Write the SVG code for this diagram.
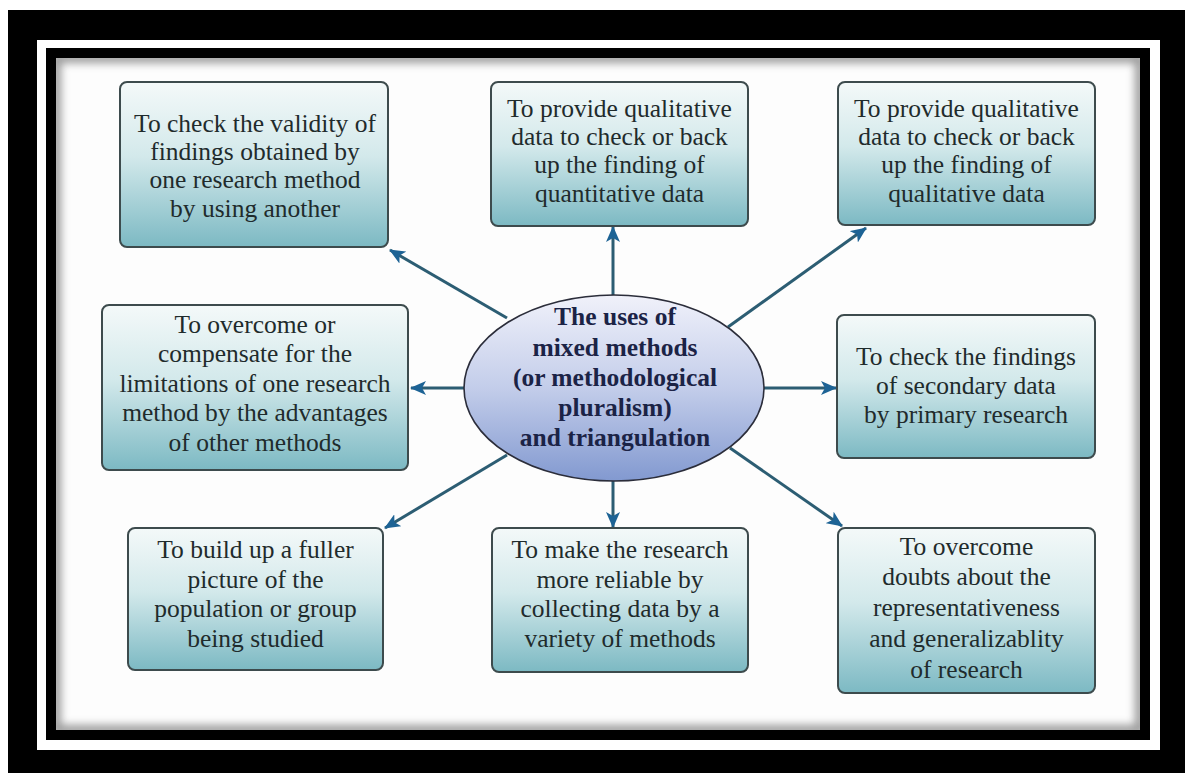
<svg xmlns="http://www.w3.org/2000/svg" width="1185" height="773" viewBox="0 0 1185 773">
  <defs>
    <linearGradient id="boxFill" x1="0" y1="0" x2="0" y2="1">
      <stop offset="0" stop-color="#f4f9f9"/>
      <stop offset="0.45" stop-color="#d3e9eb"/>
      <stop offset="1" stop-color="#7cb9c3"/>
    </linearGradient>
    <linearGradient id="hubFill" x1="0" y1="0" x2="0" y2="1">
      <stop offset="0" stop-color="#f0f1fa"/>
      <stop offset="0.5" stop-color="#c3cdea"/>
      <stop offset="1" stop-color="#8299d0"/>
    </linearGradient>
    <clipPath id="panelClip">
      <rect x="56" y="58" width="1084" height="672"/>
    </clipPath>
    <filter id="soft" x="-5%" y="-5%" width="110%" height="110%">
      <feGaussianBlur stdDeviation="4"/>
    </filter>
    <marker id="head" viewBox="0 0 16 14" refX="15" refY="7" markerWidth="16" markerHeight="14" markerUnits="userSpaceOnUse" orient="auto">
      <path d="M0,0 L16,7 L0,14 L4,7 Z" fill="#1d6395"/>
    </marker>
  </defs>
  <style>
    .box rect { fill: url(#boxFill); stroke: #3d4b4d; stroke-width: 2; }
    .box text { font-family: "Liberation Serif", "Times New Roman", serif; font-size: 25.5px; fill: #1f2b2c; text-anchor: middle; }
    #hub ellipse { fill: url(#hubFill); stroke: #2b2d3a; stroke-width: 1.6; }
    #hub text { font-family: "Liberation Serif", "Times New Roman", serif; font-size: 25.5px; font-weight: bold; fill: #1b2346; text-anchor: middle; }
    #connectors line { stroke: #2c5d73; stroke-width: 3; marker-end: url(#head); }
  </style>

  <!-- double frame -->
  <rect x="0" y="0" width="1185" height="773" fill="#ffffff"/>
  <rect x="8" y="10" width="1177" height="763" fill="#000000"/>
  <rect x="37" y="40" width="1123" height="710" fill="#ffffff"/>
  <rect x="46" y="48" width="1104" height="692" fill="#000000"/>
  <rect x="56" y="58" width="1084" height="672" fill="#fdfdfd"/>
  <g clip-path="url(#panelClip)">
    <rect x="56" y="58" width="1084" height="672" fill="none" stroke="#9a9a9a" stroke-width="10" filter="url(#soft)"/>
  </g>

  <!-- connectors from the central ellipse to each box -->
  <g id="connectors">
    <line x1="507" y1="318" x2="390" y2="250"/>
    <line x1="613" y1="295" x2="613" y2="227"/>
    <line x1="728" y1="327" x2="866" y2="228"/>
    <line x1="464" y1="388" x2="411" y2="388"/>
    <line x1="764" y1="388" x2="836" y2="388"/>
    <line x1="507" y1="455" x2="385" y2="528"/>
    <line x1="613" y1="481" x2="613" y2="527"/>
    <line x1="730" y1="448" x2="842" y2="526"/>
  </g>

  <g id="hub">
    <ellipse cx="614" cy="388" rx="150" ry="93"/>
    <text x="615" y="325">The uses of</text>
    <text x="615" y="356">mixed methods</text>
    <text x="615" y="386">(or methodological</text>
    <text x="615" y="416">pluralism)</text>
    <text x="615" y="446">and triangulation</text>
  </g>

  <g id="validity" class="box">
    <rect x="120" y="82" width="268" height="165" rx="7"/>
    <text x="255" y="132">To check the validity of</text>
    <text x="255" y="160">findings obtained by</text>
    <text x="255" y="188">one research method</text>
    <text x="255" y="217">by using another</text>
  </g>

  <g id="qual-for-quant" class="box">
    <rect x="491" y="82" width="257" height="144" rx="7"/>
    <text x="619.5" y="117">To provide qualitative</text>
    <text x="619.5" y="145">data to check or back</text>
    <text x="619.5" y="173">up the finding of</text>
    <text x="619.5" y="202">quantitative data</text>
  </g>

  <g id="qual-for-qual" class="box">
    <rect x="838" y="82" width="257" height="143" rx="7"/>
    <text x="966.5" y="117">To provide qualitative</text>
    <text x="966.5" y="145">data to check or back</text>
    <text x="966.5" y="173">up the finding of</text>
    <text x="966.5" y="202">qualitative data</text>
  </g>

  <g id="compensate" class="box">
    <rect x="102" y="305" width="306" height="165" rx="7"/>
    <text x="255" y="333">To overcome or</text>
    <text x="255" y="362">compensate for the</text>
    <text x="255" y="392">limitations of one research</text>
    <text x="255" y="421">method by the advantages</text>
    <text x="255" y="451">of other methods</text>
  </g>

  <g id="secondary" class="box">
    <rect x="837" y="315" width="258" height="143" rx="7"/>
    <text x="966" y="365">To check the findings</text>
    <text x="966" y="394">of secondary data</text>
    <text x="966" y="423">by primary research</text>
  </g>

  <g id="fuller-picture" class="box">
    <rect x="128" y="528" width="255" height="142" rx="7"/>
    <text x="255.5" y="558">To build up a fuller</text>
    <text x="255.5" y="588">picture of the</text>
    <text x="255.5" y="617">population or group</text>
    <text x="255.5" y="647">being studied</text>
  </g>

  <g id="reliable" class="box">
    <rect x="492" y="528" width="256" height="144" rx="7"/>
    <text x="620" y="558">To make the research</text>
    <text x="620" y="588">more reliable by</text>
    <text x="620" y="617">collecting data by a</text>
    <text x="620" y="647">variety of methods</text>
  </g>

  <g id="representative" class="box">
    <rect x="838" y="528" width="257" height="165" rx="7"/>
    <text x="966.5" y="555">To overcome</text>
    <text x="966.5" y="585">doubts about the</text>
    <text x="966.5" y="616">representativeness</text>
    <text x="966.5" y="647">and generalizablity</text>
    <text x="966.5" y="678">of research</text>
  </g>
</svg>
